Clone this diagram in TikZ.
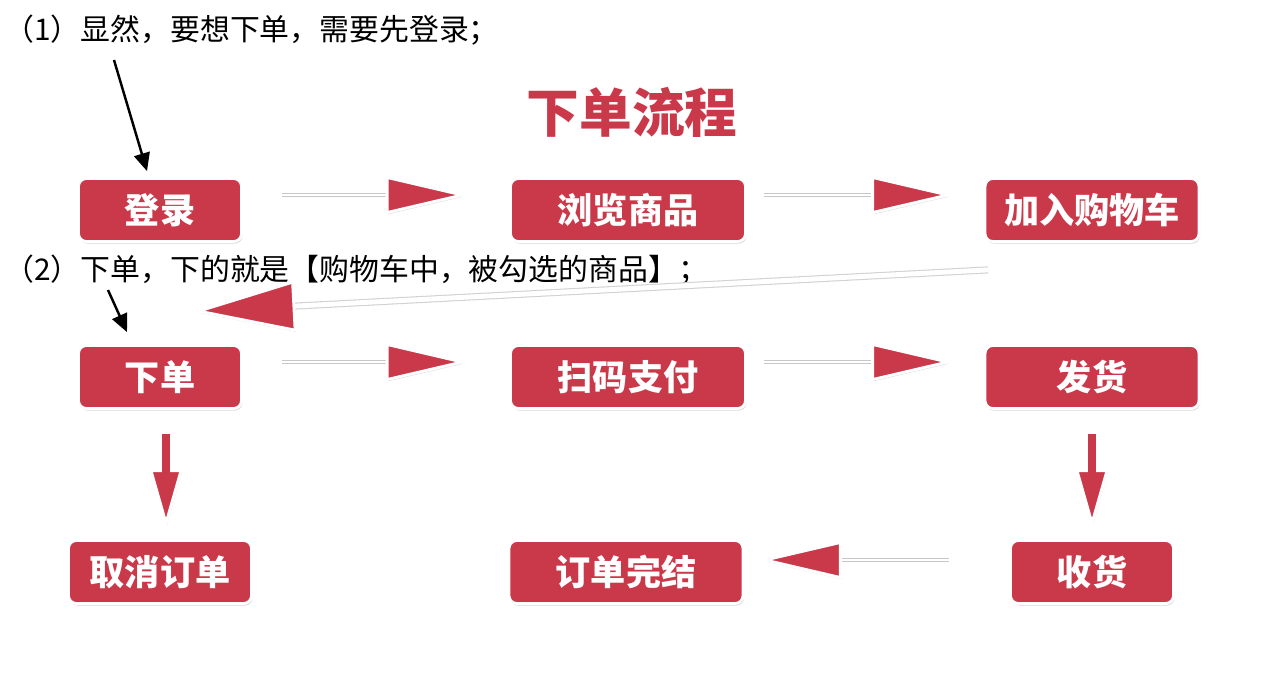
\documentclass[tikz,border=0pt]{standalone}
\usepackage{fontspec}
\setmainfont{Noto Sans CJK SC}
\usetikzlibrary{arrows.meta,calc,shadows}
\definecolor{boxred}{RGB}{201,57,74}

% arrow: shaft style, start, tip, head length, head half width
\newcommand{\flowarrow}[5][shaft]{%
  \coordinate (hb) at ($(#3)!#4!(#2)$);
  \coordinate (hl) at ($(hb)!#5!90:(#3)$);
  \coordinate (hr) at ($(hb)!#5!-90:(#3)$);
  \draw[#1] (#2) -- (hb);
  \filldraw[head] (#3) -- (hl) -- (hr) -- cycle;
}
\newcommand{\redarrow}[2]{%
  \flowarrow[redshaft]{#1}{#2}{1.05cm}{0.3cm}
  \draw[boxred, line width=5pt] (#1) -- ($(hb)!0.1cm!(#2)$);
}

\begin{document}
\begin{tikzpicture}[x=0.02cm,y=-0.02cm,
    flowbox/.style={rectangle, rounded corners=4.5pt, fill=boxred, draw=white,
      line width=1.6pt, text=white, minimum height=1.26cm,
      font=\bfseries\fontsize{20pt}{22pt}\selectfont,
      drop shadow={shadow xshift=0.6pt, shadow yshift=-1.2pt, opacity=0.3}},
    note/.style={anchor=west, inner sep=0pt, font=\fontsize{17pt}{19pt}\selectfont},
    shaft/.style={white, line width=1.5pt, preaction={draw=black!22, line width=2.8pt}},
    diagshaft/.style={white, line width=2.8pt, preaction={draw=black!18, line width=4pt}},
    redshaft/.style={boxred, line width=5pt, preaction={draw=white, line width=8pt}},
    head/.style={fill=boxred, draw=white, line width=1.6pt, line join=round,
      drop shadow={shadow xshift=0.6pt, shadow yshift=-1pt, opacity=0.25}},
    pointer/.style={black, line width=1.4pt, -{Triangle[length=0.36cm, width=0.32cm]}}]
  \useasboundingbox (0,0) rectangle (1261,674);

  % notes
  \node[note] (note1) at (4,30) {（1）显然，要想下单，需要先登录；};
  \node[note] (note2) at (4,270) {（2）下单，下的就是【购物车中，被勾选的商品】；};

  % title
  \node[text=boxred, font=\bfseries\fontsize{30pt}{34pt}\selectfont] (title) at (632,112) {下单流程};

  % boxes
  \node[flowbox, minimum width=3.26cm] (login) at (160,210) {登录};
  \node[flowbox, minimum width=4.7cm] (browse) at (628,210) {浏览商品};
  \node[flowbox, minimum width=4.28cm] (cart) at (1092,210) {加入购物车};
  \node[flowbox, minimum width=3.26cm] (order) at (160,377) {下单};
  \node[flowbox, minimum width=4.7cm] (pay) at (628,377) {扫码支付};
  \node[flowbox, minimum width=4.28cm] (ship) at (1092,377) {发货};
  \node[flowbox, minimum width=3.66cm] (cancel) at (160,572) {取消订单};
  \node[flowbox, minimum width=4.68cm] (done) at (626,572) {订单完结};
  \node[flowbox, minimum width=3.26cm] (receive) at (1092,572) {收货};

  % flow arrows
  \coordinate (a1) at ($(login.east)+(39,-15)$);
  \coordinate (b1) at ($(browse.west)+(-47,-15)$);
  \coordinate (a2) at ($(browse.east)+(17,-15)$);
  \coordinate (b2) at ($(cart.west)+(-36,-15)$);
  \coordinate (a3) at ($(cart.south)+(-104,27)$);
  \coordinate (b3) at ($(order.north)+(39,-33)$);
  \coordinate (a4) at ($(order.east)+(39,-15)$);
  \coordinate (b4) at ($(pay.west)+(-47,-15)$);
  \coordinate (a5) at ($(pay.east)+(17,-15)$);
  \coordinate (b5) at ($(ship.west)+(-36,-15)$);
  \coordinate (a6) at ($(receive.west)+(-60,-12)$);
  \coordinate (b6) at ($(done.east)+(21,-12)$);
  \coordinate (a7) at ($(order.south)+(6,24)$);
  \coordinate (b7) at ($(cancel.north)+(6,-16)$);
  \coordinate (a8) at ($(ship.south)+(0,24)$);
  \coordinate (b8) at ($(receive.north)+(0,-16)$);

  \flowarrow{a1}{b1}{1.5cm}{0.35cm}
  \flowarrow{a2}{b2}{1.5cm}{0.35cm}
  \flowarrow[diagshaft]{a3}{b3}{1.9cm}{0.48cm}
  \flowarrow{a4}{b4}{1.5cm}{0.35cm}
  \flowarrow{a5}{b5}{1.5cm}{0.35cm}
  \flowarrow{a6}{b6}{1.5cm}{0.35cm}
  \redarrow{a7}{b7}
  \redarrow{a8}{b8}

  % pointers from the notes
  \coordinate (p1) at (114,60);
  \coordinate (p2) at (108,290);
  \draw[pointer] (p1) -- ([xshift=-0.26cm, yshift=0.12cm]login.north);
  \draw[pointer] (p2) -- ([xshift=-0.66cm, yshift=0.24cm]order.north);
\end{tikzpicture}
\end{document}
